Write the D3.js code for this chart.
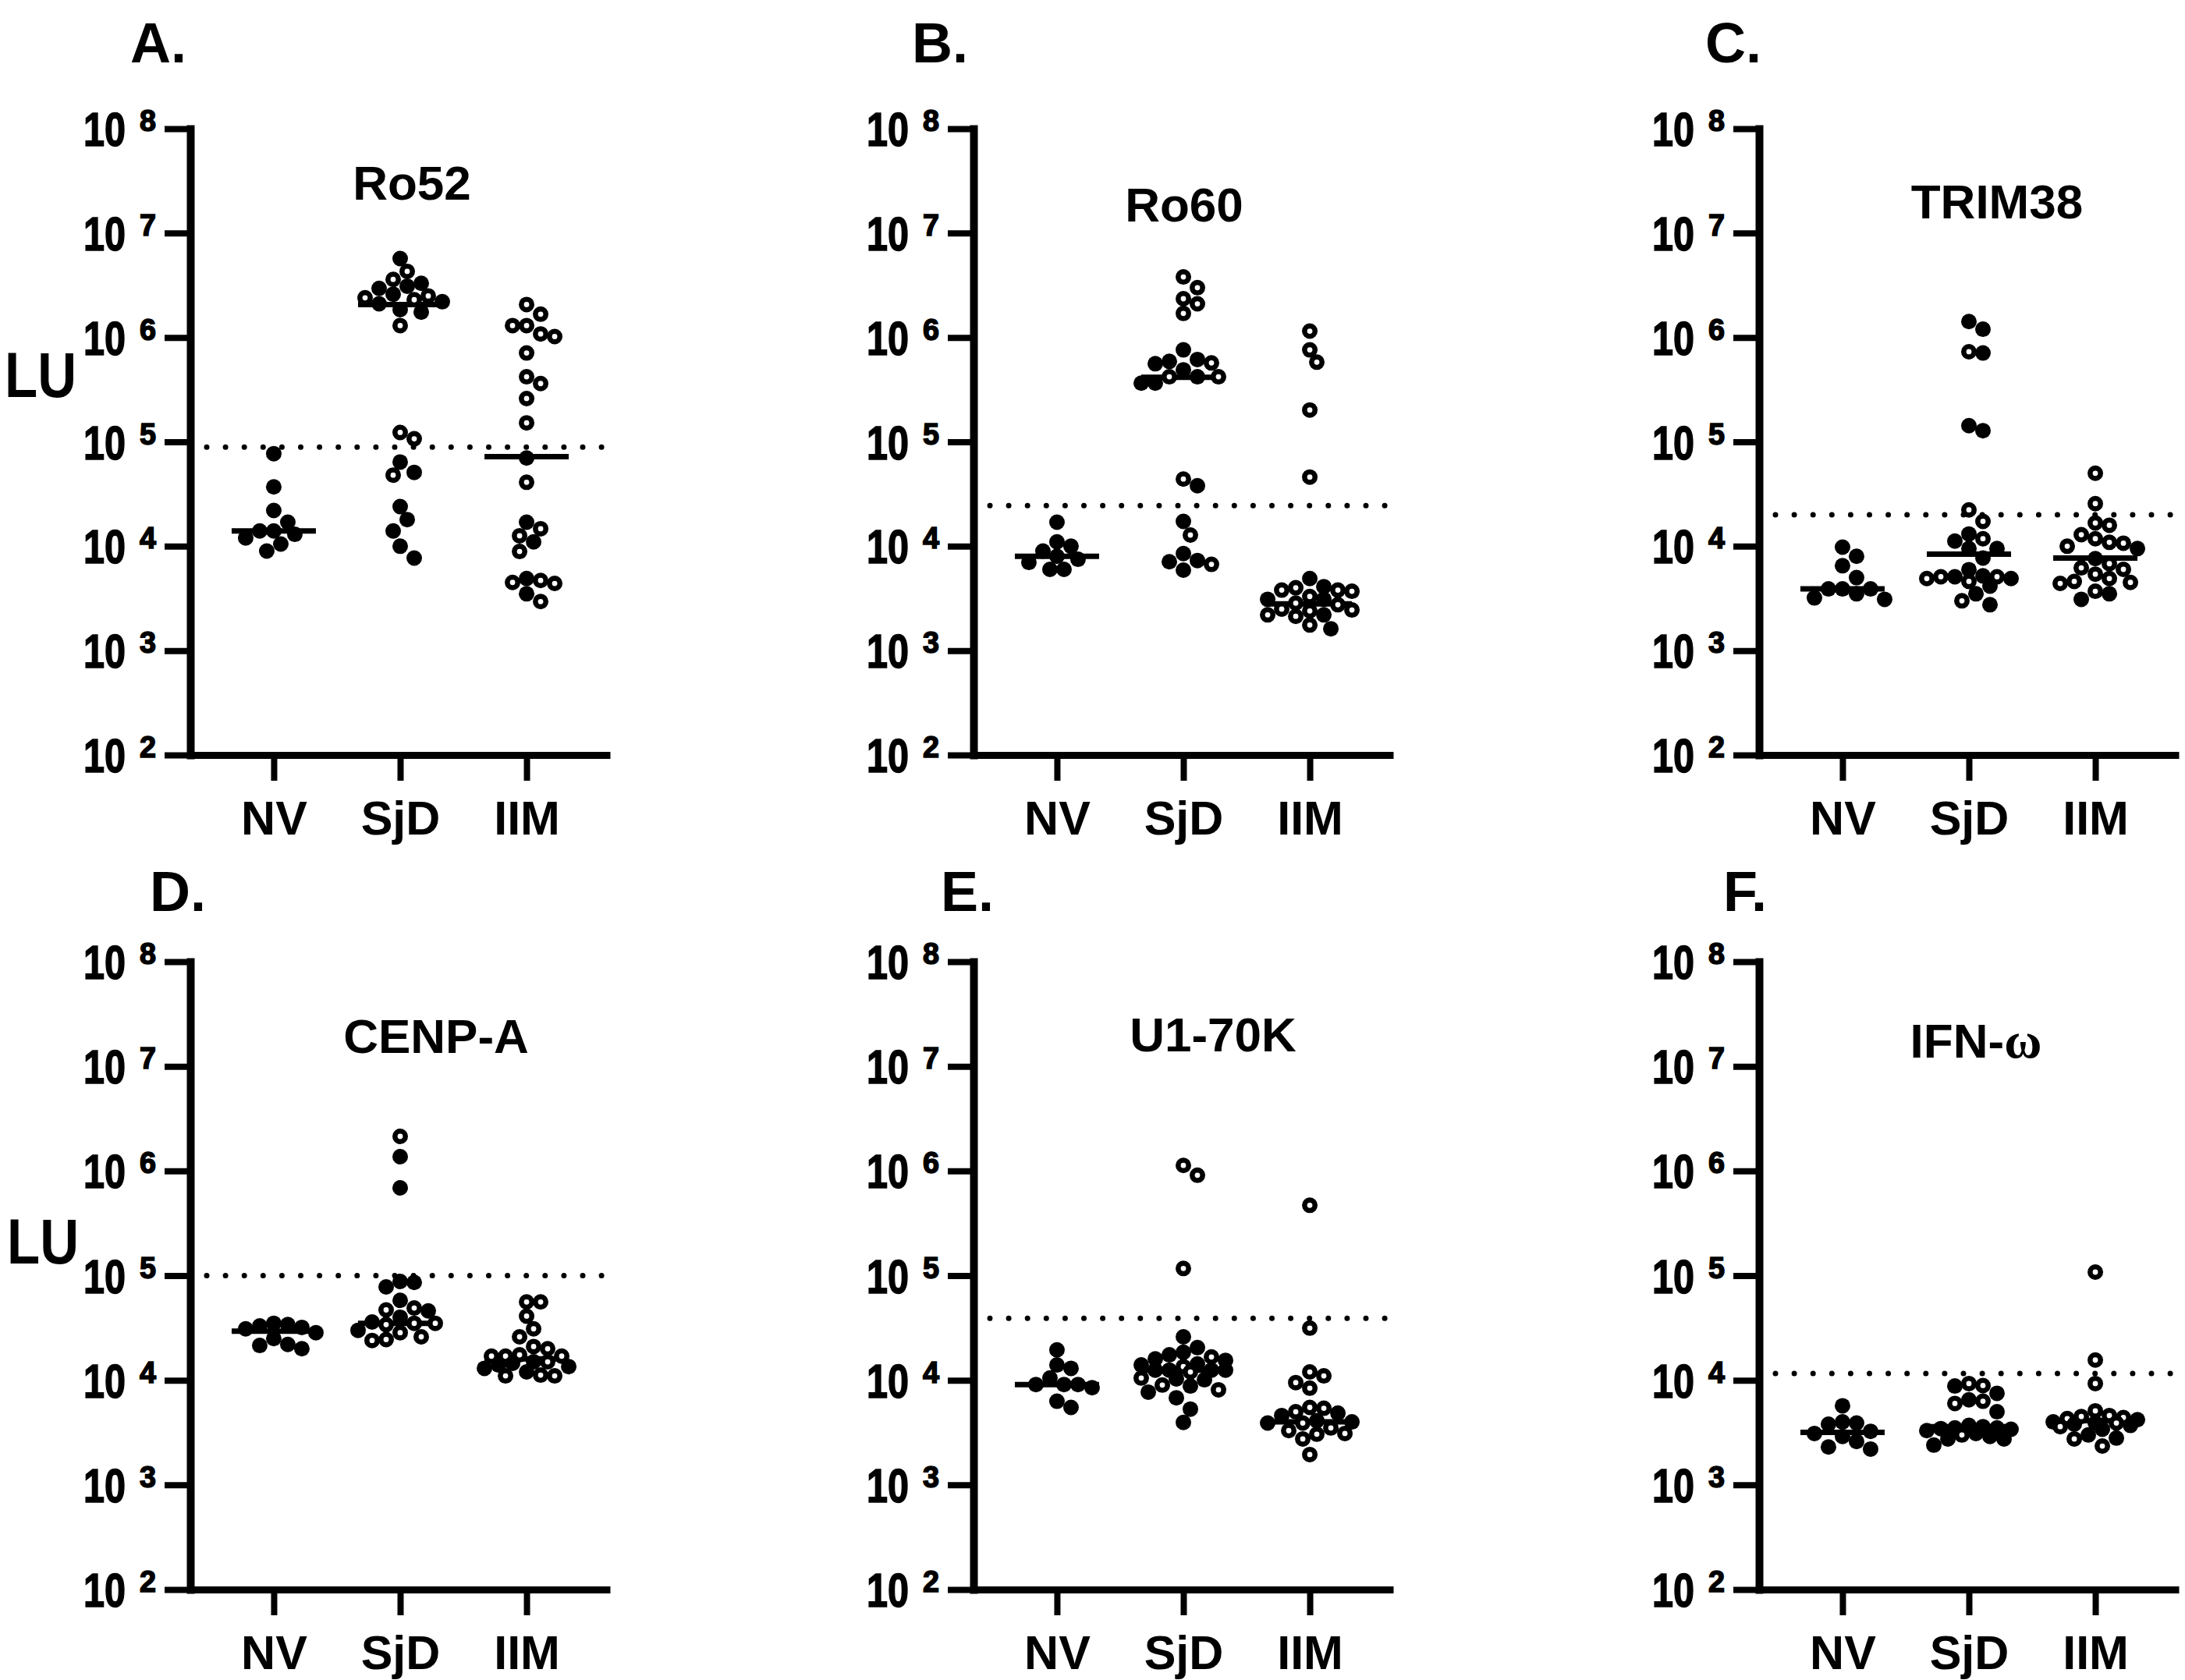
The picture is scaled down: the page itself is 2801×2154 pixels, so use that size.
<!DOCTYPE html>
<html lang="en">
<head>
  <meta charset="utf-8">
  <title>LU scatter plots</title>
  <style>
    body { margin: 0; background: #fff; }
    svg { display: block; }
    text { font-family: "Liberation Sans", Arial, sans-serif; font-weight: bold; fill: #000; }
    .tl { stroke: #000; stroke-width: 1.6px; }
  </style>
</head>
<body>
<svg id="chart" width="2801" height="2154"></svg>

<script src="https://d3js.org/d3.v7.min.js"></script>
<script>
  // groups and axis ticks
  var groups = ["NV", "SjD", "IIM"];
  var tickExponents = [2, 3, 4, 5, 6, 7, 8];

  var antigens = ["Ro52", "Ro60", "TRIM38", "CENP-A", "U1-70K", "IFN-ω"];
  var panelLetters = ["A.", "B.", "C.", "D.", "E.", "F."];

  // cut-off (dotted line) and medians
  var cutoffs   = [89000, 24500, 20000, 100000, 39000, 11600];
  var medianNV  = [14000, 8000, 3900, 29500, 9100, 3175];
  var medianSjD = [2070000, 415000, 8400, 35000, 12500, 3600];
  var medianIIM = [72000, 2800, 7700, 16000, 4000, 4100];

  // A. Ro52
  var ro52NV = [77000, 37000, 22000, 17000, 14000, 14000, 13000, 12000, 10500, 9000];
  var ro52SjDFilled = [5700000, 3300000, 3100000, 2950000, 2600000, 2200000, 2100000, 1850000, 1750000,
                       64000, 51000, 24000, 18000, 14000, 10000, 7700];
  var ro52SjDOpen = [4300000, 3600000, 2500000, 2400000, 2300000, 1300000, 123000, 107000, 48000];
  var ro52IIMFilled = [70000, 17000, 11000, 4900, 3500];
  var ro52IIMOpen = [2070000, 1670000, 1300000, 1300000, 1080000, 1020000, 710000, 420000, 362000, 260000,
                     152000, 41000, 14700, 12600, 8900, 4700, 4400, 4500, 2950];

  // B. Ro60
  var ro60NV = [17000, 11000, 10000, 9000, 8000, 7500, 7000, 6000, 6000];
  var ro60SjDFilled = [760000, 615000, 590000, 560000, 490000, 420000, 365000, 365000,
                       38000, 17300, 8500, 7100, 7300, 5900];
  var ro60SjDOpen = [3800000, 3000000, 2350000, 2100000, 1700000, 570000, 420000, 420000, 44000, 12800, 6700];
  var ro60IIMFilled = [4900, 4100, 3100, 3100, 2200, 1620];
  var ro60IIMOpen = [1150000, 760000, 580000, 202000, 46000, 4000, 3700, 3800, 3800, 3300, 2850, 2750,
                     2500, 2450, 2400, 2130, 2200, 1760];

  // C. TRIM38
  var trim38NV = [9800, 8000, 6500, 5000, 3900, 3900, 3900, 3500, 3200, 3100];
  var trim38SjDFilled = [1420000, 1200000, 710000, 143000, 128000, 11200, 13100, 9500, 9500, 7700,
                         5960, 4900, 5200, 5100, 4150, 3500, 2750];
  var trim38SjDOpen = [730000, 22300, 17300, 11800, 4900, 4600, 5100, 5100, 3000];
  var trim38IIMFilled = [9500, 7600, 3500, 3100];
  var trim38IIMOpen = [50000, 25600, 16700, 15900, 12900, 11800, 10900, 10700, 10000, 6200, 6000, 6800,
                       5400, 4900, 4600, 4500, 4400, 3700];

  // D. CENP-A
  var cenpaNV = [35000, 34000, 33000, 32000, 31000, 28500, 25000, 22000, 21500, 20000];
  var cenpaSjDFilled = [1370000, 690000, 86000, 88000, 78000, 58000, 46000, 40000, 36000, 30000];
  var cenpaSjDOpen = [2140000, 49000, 47000, 35000, 35000, 34000, 28500, 26000, 24000, 24500];
  var cenpaIIMFilled = [15000, 14000, 12000, 13000, 14500, 13500];
  var cenpaIIMOpen = [56000, 56000, 41000, 31000, 26000, 20000, 21000, 17000, 17500, 17000, 17000,
                      11000, 11200, 11000, 15000];

  // E. U1-70K
  var u170kNV = [19500, 14000, 13000, 10500, 9100, 9100, 9100, 8500, 6300, 5500];
  var u170kSjDFilled = [26000, 20500, 18500, 17500, 16000, 15500, 14300, 14000, 12500, 12500, 12500,
                        12500, 10100, 10300, 8800, 7700, 6800, 5300, 3950];
  var u170kSjDOpen = [1130000, 910000, 117000, 16700, 13500, 12000, 10500, 9000, 8100];
  var u170kIIMFilled = [4850, 4600, 4000, 3900, 4100];
  var u170kIIMOpen = [470000, 31500, 12000, 11000, 8400, 9500, 5400, 5500, 5000, 3900, 3300, 3050,
                      3100, 3500, 2750, 1950];

  // F. IFN-omega
  var ifnwNV = [5700, 4000, 3900, 3800, 3250, 3100, 2900, 2600, 2300, 2200];
  var ifnwSjDFilled = [8800, 7500, 6500, 5000, 3400, 3500, 3600, 3500, 3300, 3450, 3700, 3100,
                       2750, 2750, 2400, 2900];
  var ifnwSjDOpen = [9300, 8900, 6300, 6000, 3000];
  var ifnwIIMFilled = [4200, 4000, 3900, 3700, 3800, 3400, 3000, 2800];
  var ifnwIIMOpen = [108000, 15600, 9300, 5100, 4300, 4400, 4500, 4600, 3900, 2750, 2350, 3600];

  // per panel: [group] -> [filled, open]
  var panelData = [
    [[ro52NV, []], [ro52SjDFilled, ro52SjDOpen], [ro52IIMFilled, ro52IIMOpen]],
    [[ro60NV, []], [ro60SjDFilled, ro60SjDOpen], [ro60IIMFilled, ro60IIMOpen]],
    [[trim38NV, []], [trim38SjDFilled, trim38SjDOpen], [trim38IIMFilled, trim38IIMOpen]],
    [[cenpaNV, []], [cenpaSjDFilled, cenpaSjDOpen], [cenpaIIMFilled, cenpaIIMOpen]],
    [[u170kNV, []], [u170kSjDFilled, u170kSjDOpen], [u170kIIMFilled, u170kIIMOpen]],
    [[ifnwNV, []], [ifnwSjDFilled, ifnwSjDOpen], [ifnwIIMFilled, ifnwIIMOpen]]
  ];
  var medians = [medianNV, medianSjD, medianIIM];

  // page layout (pixels)
  var layout = [
    {ax: 244,  top: 165,  bottom: 968,  letter: [167, 80],    title: [528, 256],   lu: [6, 509]},
    {ax: 1248, top: 165,  bottom: 968,  letter: [1169, 80],   title: [1518, 284]},
    {ax: 2255, top: 165,  bottom: 968,  letter: [2186, 80],   title: [2560, 280]},
    {ax: 244,  top: 1233, bottom: 2038, letter: [192, 1168],  title: [559, 1350],  lu: [9, 1620]},
    {ax: 1248, top: 1233, bottom: 2038, letter: [1206, 1168], title: [1555, 1348]},
    {ax: 2255, top: 1233, bottom: 2038, letter: [2209, 1168], title: [2533, 1356]}
  ];

  var svg = d3.select("#chart");
  var R = 10;          // marker radius
  var STEP = 9;        // swarm grid
  var MINDIST = 18;    // minimum centre distance
  var MAXOFF = 54;     // half width of a column

  // simple GraphPad-like swarm: spread equal-ish values sideways
  function swarm(points, cx) {
    var placed = [];
    points.sort(function(a, b) { return b.v - a.v; });
    points.forEach(function(p) {
      var chosen = null, bestX = cx, bestGap = -1;
      for (var k = 0; k * STEP <= MAXOFF && chosen === null; k++) {
        var offs = k === 0 ? [0] : [k * STEP, -k * STEP];
        for (var i = 0; i < offs.length; i++) {
          var x = cx + offs[i], gap = Infinity;
          placed.forEach(function(q) { gap = Math.min(gap, Math.hypot(q.x - x, q.y - p.y)); });
          if (gap >= MINDIST) { chosen = x; break; }
          if (gap > bestGap) { bestGap = gap; bestX = x; }
        }
      }
      p.x = chosen !== null ? chosen : bestX;
      placed.push(p);
    });
    return points;
  }

  layout.forEach(function(L, pi) {
    var g = svg.append("g");

    var y = d3.scaleLog().domain([1e2, 1e8]).range([L.bottom, L.top]);
    var x = d3.scalePoint().domain(groups).range([L.ax, L.ax + 538]).padding(0.66);

    // y axis
    var yAxis = g.append("g")
      .attr("transform", "translate(" + L.ax + ",0)")
      .call(d3.axisLeft(y)
        .tickValues(tickExponents.map(function(e) { return Math.pow(10, e); }))
        .tickSize(33).tickSizeOuter(0).tickFormat(""));
    yAxis.select(".domain").attr("stroke-width", 10).attr("stroke-linecap", "square");
    yAxis.selectAll(".tick line").attr("stroke-width", 8);

    // tick labels 10^n (narrow, heavy digits as in the figure)
    tickExponents.forEach(function(e) {
      var ty = y(Math.pow(10, e));
      g.append("text").attr("class", "tl").attr("x", L.ax - 137).attr("y", ty + 22)
        .attr("textLength", 54).attr("lengthAdjust", "spacingAndGlyphs")
        .style("font-size", "62px").text("10");
      g.append("text").attr("class", "tl").attr("x", L.ax - 65).attr("y", ty + 3)
        .attr("textLength", 21).attr("lengthAdjust", "spacingAndGlyphs")
        .style("font-size", "38px").text(e);
    });

    // x axis
    var xAxis = g.append("g")
      .attr("transform", "translate(0," + L.bottom + ")")
      .call(d3.axisBottom(x).tickSize(33).tickSizeOuter(0));
    xAxis.select(".domain").attr("stroke-width", 9);
    xAxis.selectAll(".tick line").attr("stroke-width", 8);
    xAxis.selectAll(".tick text")
      .attr("y", 102).attr("dy", null)
      .style("font-size", "61px")
      .style("font-family", "'Liberation Sans', Arial, sans-serif")
      .style("font-weight", "bold");

    // cut-off
    g.append("line")
      .attr("x1", L.ax + 21).attr("x2", L.ax + 536)
      .attr("y1", y(cutoffs[pi])).attr("y2", y(cutoffs[pi]))
      .attr("stroke", "#000").attr("stroke-width", 7)
      .attr("stroke-linecap", "round").attr("stroke-dasharray", "0 24.1");

    groups.forEach(function(grp, gi) {
      var cx = x(grp);
      var set = panelData[pi][gi];
      var pts = set[0].map(function(v) { return {v: v, open: false}; })
        .concat(set[1].map(function(v) { return {v: v, open: true}; }));
      pts.forEach(function(p) { p.y = y(p.v); });
      swarm(pts, cx);

      // median
      var my = y(medians[gi][pi]);
      g.append("line")
        .attr("x1", cx - 54).attr("x2", cx + 54)
        .attr("y1", my).attr("y2", my)
        .attr("stroke", "#000").attr("stroke-width", 7);

      g.selectAll(null).data(pts).enter().append("circle")
        .attr("cx", function(d) { return d.x; })
        .attr("cy", function(d) { return d.y; })
        .attr("r", function(d) { return d.open ? R - 3.3 : R; })
        .attr("fill", function(d) { return d.open ? "#fff" : "#000"; })
        .attr("stroke", function(d) { return d.open ? "#000" : "none"; })
        .attr("stroke-width", function(d) { return d.open ? 6.6 : 0; });
    });

    // panel letter and title
    g.append("text").attr("x", L.letter[0]).attr("y", L.letter[1])
      .style("font-size", "72px").text(panelLetters[pi]);

    var t = g.append("text").attr("x", L.title[0]).attr("y", L.title[1])
      .attr("text-anchor", "middle").style("font-size", "62px");
    var name = antigens[pi];
    if (name.indexOf("ω") >= 0) {
      t.append("tspan").text(name.replace("ω", ""));
      t.append("tspan").style("font-family", "'Liberation Serif', 'DejaVu Serif', serif")
        .style("font-size", "66px").text("ω");
    } else {
      t.text(name);
    }

    if (L.lu) {
      g.append("text").attr("x", L.lu[0]).attr("y", L.lu[1])
        .attr("textLength", 92).attr("lengthAdjust", "spacingAndGlyphs")
        .style("font-size", "82px").text("LU");
    }
  });
</script>
</body>
</html>
